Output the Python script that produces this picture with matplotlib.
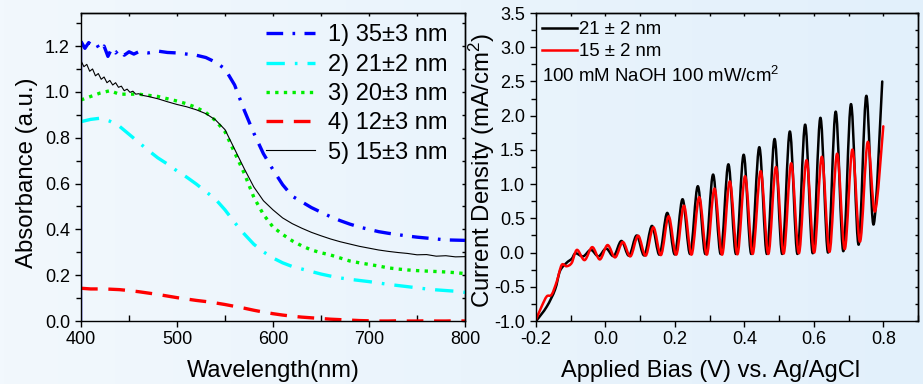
import numpy as np
import matplotlib.pyplot as plt
from matplotlib.colors import LinearSegmentedColormap
from matplotlib.ticker import MultipleLocator
from matplotlib.path import Path
from matplotlib.patches import PathPatch
from matplotlib.lines import Line2D

plt.rcParams['font.family'] = ['Liberation Sans', 'DejaVu Sans']
plt.rcParams['mathtext.default'] = 'regular'

# ---- absorbance spectra (left) ----
wl = [400, 410, 420, 430, 440, 450, 460, 470, 480, 490, 500, 510, 520, 530, 540,
      550, 560, 570, 580, 590, 600, 610, 620, 630, 640, 650, 660, 670, 680, 690,
      700, 710, 720, 730, 740, 750, 760, 770, 780, 790, 800]

# 35 nm sample starts from zero at 400 nm, noisy at the blue end
wl_35 = [400, 400, 404, 408, 412, 416, 420, 424, 428, 432, 436, 440, 445, 450, 455,
         460, 470, 480, 490, 500, 510, 520, 530, 540, 550, 560, 570, 580, 590, 600,
         610, 620, 630, 640, 650, 660, 670, 680, 690, 700, 710, 720, 730, 740, 750,
         760, 770, 780, 790, 800]
abs_35 = [0.0, 1.22, 1.19, 1.215, 1.20, 1.21, 1.18, 1.20, 1.155, 1.19, 1.17, 1.185,
          1.16, 1.175, 1.165, 1.175, 1.17, 1.178, 1.172, 1.17, 1.165, 1.16, 1.15,
          1.13, 1.10, 1.03, 0.92, 0.82, 0.73, 0.66, 0.595, 0.545, 0.52, 0.495, 0.475,
          0.455, 0.438, 0.423, 0.41, 0.40, 0.39, 0.383, 0.377, 0.371, 0.366, 0.362,
          0.358, 0.354, 0.353, 0.352]

abs_21 = [0.87, 0.88, 0.885, 0.872, 0.85, 0.815, 0.78, 0.745, 0.712, 0.685, 0.655,
          0.628, 0.598, 0.565, 0.532, 0.485, 0.43, 0.38, 0.335, 0.302, 0.275, 0.254,
          0.238, 0.227, 0.216, 0.205, 0.196, 0.188, 0.182, 0.177, 0.172, 0.166, 0.16,
          0.155, 0.15, 0.145, 0.14, 0.136, 0.133, 0.13, 0.125]

abs_20 = [0.965, 0.98, 0.995, 1.005, 0.99, 0.99, 0.99, 0.985, 0.98, 0.97, 0.96,
          0.948, 0.932, 0.91, 0.875, 0.826, 0.735, 0.645, 0.54, 0.465, 0.41, 0.378,
          0.35, 0.328, 0.31, 0.298, 0.288, 0.275, 0.262, 0.254, 0.247, 0.24, 0.232,
          0.227, 0.223, 0.22, 0.218, 0.216, 0.214, 0.211, 0.207]

abs_12 = [0.143, 0.14, 0.14, 0.139, 0.137, 0.133, 0.128, 0.122, 0.116, 0.109, 0.102,
          0.096, 0.09, 0.085, 0.079, 0.072, 0.064, 0.056, 0.047, 0.039, 0.032, 0.026,
          0.021, 0.017, 0.014, 0.011, 0.008, 0.006, 0.004, 0.002, 0.001, 0.0, 0.0,
          0.001, 0.0, 0.0, 0.001, 0.0, 0.0, 0.001, 0.0]

wl_15 = [400, 403, 406, 409, 412, 415, 418, 421, 424, 427, 430, 433, 436, 439, 442,
         445, 448, 451, 454, 457, 460, 465, 470, 480, 490, 500, 510, 520, 530, 540,
         550, 560, 570, 580, 590, 600, 610, 620, 630, 640, 650, 660, 670, 680, 690,
         700, 710, 720, 730, 740, 750, 760, 770, 780, 790, 800]
abs_15 = [1.135, 1.11, 1.12, 1.09, 1.10, 1.07, 1.08, 1.055, 1.065, 1.04, 1.05, 1.03,
          1.04, 1.02, 1.025, 1.005, 1.012, 0.998, 1.003, 0.99, 0.992, 0.984, 0.98,
          0.97, 0.957, 0.945, 0.935, 0.922, 0.905, 0.878, 0.835, 0.75, 0.665, 0.585,
          0.525, 0.485, 0.45, 0.425, 0.405, 0.387, 0.372, 0.358, 0.346, 0.336, 0.326,
          0.318, 0.31, 0.304, 0.299, 0.295, 0.289, 0.29, 0.283, 0.285, 0.28, 0.281]

# ---- chopped-light photocurrent (right): onset, then light-on peak / dark trough ----
bias_21 = [-0.198, -0.169, -0.145, -0.131, -0.112, -0.097,
           -0.086, -0.064, -0.042, -0.020, 0.002, 0.024, 0.046, 0.068,
           0.090, 0.112, 0.134, 0.156, 0.178, 0.200, 0.222, 0.244,
           0.266, 0.288, 0.310, 0.332, 0.354, 0.376, 0.398, 0.420,
           0.443, 0.465, 0.487, 0.509, 0.531, 0.553, 0.575, 0.597,
           0.619, 0.641, 0.663, 0.685, 0.707, 0.729, 0.751, 0.772, 0.797]
j_21 = [-0.99, -0.79, -0.54, -0.27, -0.15, -0.09,
        -0.01, -0.055, 0.04, -0.055, 0.06, -0.05, 0.17, -0.045,
        0.25, -0.04, 0.39, -0.03, 0.58, -0.025, 0.78, -0.02,
        0.97, -0.02, 1.14, -0.02, 1.29, -0.02, 1.43, -0.02,
        1.54, -0.02, 1.66, -0.02, 1.77, -0.02, 1.87, -0.01,
        1.97, 0.0, 2.06, 0.02, 2.17, 0.115, 2.29, 0.41, 2.50]

bias_15 = [-0.200, -0.184, -0.169, -0.155, -0.140, -0.126, -0.112, -0.097,
           -0.082, -0.060, -0.038, -0.016, 0.006, 0.028, 0.050, 0.072,
           0.094, 0.116, 0.138, 0.160, 0.182, 0.204, 0.226, 0.248,
           0.270, 0.292, 0.314, 0.336, 0.358, 0.380, 0.402, 0.424,
           0.447, 0.469, 0.491, 0.513, 0.535, 0.557, 0.579, 0.601,
           0.623, 0.645, 0.667, 0.689, 0.711, 0.733, 0.755, 0.776, 0.800]
j_15 = [-0.98, -0.79, -0.64, -0.615, -0.42, -0.18, -0.20, -0.15,
        0.04, -0.11, 0.08, -0.10, 0.11, -0.07, 0.155, -0.055,
        0.247, -0.045, 0.37, -0.035, 0.53, -0.03, 0.685, -0.03,
        0.81, -0.03, 0.935, -0.03, 1.04, -0.025, 1.115, -0.02,
        1.19, -0.02, 1.25, -0.015, 1.305, -0.01, 1.35, 0.0,
        1.40, 0.01, 1.445, 0.05, 1.505, 0.16, 1.615, 0.60, 1.845]


def smooth_path(x, y):
    # Catmull-Rom style Bezier through the measured points
    pts = np.column_stack([x, y])
    ext = np.vstack([pts[0], pts, pts[-1]])
    verts = [pts[0]]
    for i in range(len(pts) - 1):
        p0, p1, p2, p3 = ext[i], ext[i + 1], ext[i + 2], ext[i + 3]
        verts += [p1 + (p2 - p0) / 6, p2 - (p3 - p1) / 6, p2]
    codes = [Path.MOVETO] + [Path.CURVE4] * (3 * (len(pts) - 1))
    return Path(verts, codes)


fig = plt.figure(figsize=(9.23, 3.84), dpi=100)

# soft pale-blue backdrop
bg = fig.add_axes([0, 0, 1, 1], zorder=-10)
bg_cmap = LinearSegmentedColormap.from_list('bg', ['#f2f8fd', '#e2f0fb'])
bg.imshow(np.linspace(0, 1, 256)[None, :], aspect='auto', cmap=bg_cmap,
          extent=[0, 1, 0, 1])
bg.set_axis_off()

ax1 = fig.add_axes([0.0878, 0.164, 0.416, 0.802])
ax2 = fig.add_axes([0.5807, 0.164, 0.4139, 0.802])


def style_axes(ax, xmaj, xmin, ymaj, ymin, right_step):
    ax.set_facecolor('none')
    for s in ax.spines.values():
        s.set_linewidth(1.0)
    ax.xaxis.set_major_locator(MultipleLocator(xmaj))
    ax.xaxis.set_minor_locator(MultipleLocator(xmin))
    ax.yaxis.set_major_locator(MultipleLocator(ymaj))
    ax.yaxis.set_minor_locator(MultipleLocator(ymin))
    ax.tick_params(which='both', width=1, labelsize=13, colors='black')
    ax.tick_params(which='major', direction='out', length=4.5)
    ax.tick_params(axis='y', which='minor', direction='out', length=3.5)
    ax.tick_params(axis='x', which='minor', direction='in', length=4)
    ax.tick_params(axis='x', pad=2.5)
    ax.tick_params(axis='y', pad=3.5)
    top = ax.secondary_xaxis('top')
    top.xaxis.set_major_locator(MultipleLocator(xmin))
    top.tick_params(direction='in', length=2.5, width=1, labeltop=False)
    top.spines['top'].set_linewidth(1.0)
    right = ax.secondary_yaxis('right')
    right.yaxis.set_major_locator(MultipleLocator(right_step))
    right.tick_params(direction='in', length=2.5, width=1, labelright=False)
    right.spines['right'].set_linewidth(1.0)


# left panel
lw = 2.4
ax1.plot(wl_35[:2], abs_35[:2], color='#0000ff', lw=1.0)
ax1.plot(wl_35[1:], abs_35[1:], color='#0000ff', lw=lw,
         linestyle=(0, (5, 2.8, 0.8, 2.8)), label='1) 35±3 nm')
ax1.plot(wl, abs_21, color='#00ffff', lw=lw,
         linestyle=(0, (5.5, 3, 0.8, 3)), label='2) 21±2 nm')
ax1.plot(wl, abs_20, color='#00ee00', lw=lw,
         linestyle=(0, (1.0, 1.6)), label='3) 20±3 nm')
ax1.plot(wl, abs_12, color='#ff0000', lw=lw,
         linestyle=(0, (5, 3.2)), label='4) 12±3 nm')
ax1.plot(wl_15, abs_15, color='black', lw=0.8, label='5) 15±3 nm')

ax1.set_xlim(400, 800)
ax1.set_ylim(0, 1.344)
style_axes(ax1, 100, 50, 0.2, 0.1, 0.1)
ax1.yaxis.set_major_formatter(plt.FormatStrFormatter('%.1f'))
ax1.set_xlabel('Wavelength(nm)', fontsize=17)
ax1.set_ylabel('Absorbance (a.u.)', fontsize=17.3)
ax1.xaxis.set_label_coords(0.5, -0.127)
ax1.yaxis.set_label_coords(-0.112, 0.48)
ax1.legend(loc='upper right', bbox_to_anchor=(0.955, 0.963), frameon=False,
           fontsize=17, handlelength=2.1, handletextpad=0.55, labelspacing=0.31,
           borderpad=0, borderaxespad=0)

# right panel
lw_j = 1.8
ax2.add_patch(PathPatch(smooth_path(bias_21, j_21), fill=False,
                        edgecolor='black', lw=lw_j, capstyle='round', joinstyle='round'))
ax2.add_patch(PathPatch(smooth_path(bias_15, j_15), fill=False,
                        edgecolor='#ff0000', lw=lw_j, capstyle='round', joinstyle='round'))
ax2.set_xlim(-0.2, 0.9)
ax2.set_ylim(-1.0, 3.5)
style_axes(ax2, 0.2, 0.1, 0.5, 0.25, 0.25)
ax2.xaxis.set_major_formatter(plt.FormatStrFormatter('%.1f'))
ax2.yaxis.set_major_formatter(plt.FormatStrFormatter('%.1f'))
ax2.set_xticks([-0.2, 0.0, 0.2, 0.4, 0.6, 0.8])
ax2.set_xlabel('Applied Bias (V) vs. Ag/AgCl', fontsize=17)
ax2.set_ylabel('Current Density (mA/cm$^2$)', fontsize=17.3)
ax2.xaxis.set_label_coords(0.458, -0.127)
ax2.yaxis.set_label_coords(-0.102, 0.49)
handles = [Line2D([], [], color='black', lw=lw_j),
           Line2D([], [], color='#ff0000', lw=lw_j)]
ax2.legend(handles, ['21 ± 2 nm', '15 ± 2 nm'], loc='upper left',
           bbox_to_anchor=(0.016, 0.973), frameon=False,
           fontsize=13.4, handlelength=1.85, handletextpad=0.15, labelspacing=0.25,
           borderpad=0, borderaxespad=0)
ax2.text(0.016, 0.775, '100 mM NaOH 100 mW/cm$^2$', transform=ax2.transAxes,
         fontsize=13.4, va='baseline', ha='left')

fig.savefig('out.png', dpi=100, facecolor=fig.get_facecolor())
